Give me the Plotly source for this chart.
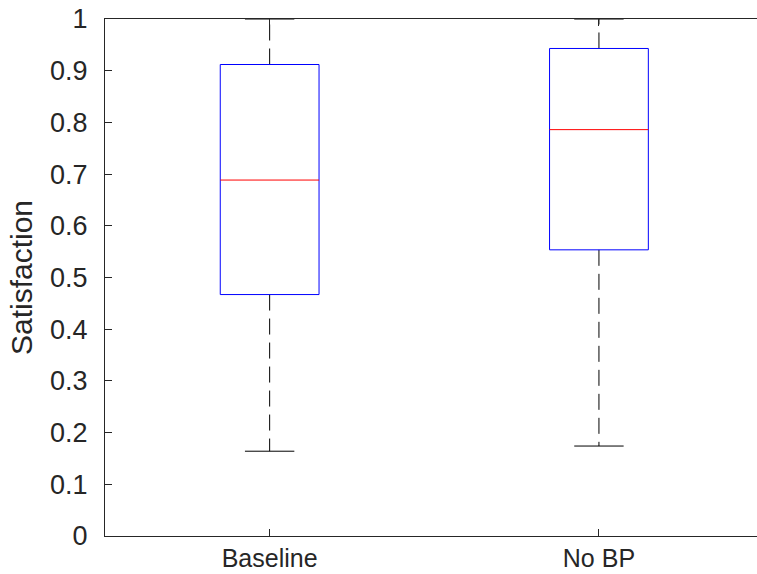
import plotly.graph_objects as go

categories = ["Baseline", "No BP"]
q1 = [0.467, 0.5535]
median = [0.6885, 0.786]
q3 = [0.912, 0.943]
lower_whisker = [0.164, 0.174]
upper_whisker = [1.0, 1.0]
y_ticks = [0, 0.1, 0.2, 0.3, 0.4, 0.5, 0.6, 0.7, 0.8, 0.9, 1]

BOX_HALF = 0.15
CAP_HALF = 0.075
TXT = "rgb(38,38,38)"

fig = go.Figure()
for i, cat in enumerate(categories):
    x = i + 1
    fig.add_trace(go.Scatter(x=[x, x, None, x, x],
                             y=[q3[i], upper_whisker[i], None, q1[i], lower_whisker[i]],
                             mode="lines", line=dict(color="black", width=1, dash="16px,8px"),
                             hoverinfo="skip", showlegend=False))
    fig.add_trace(go.Scatter(x=[x - CAP_HALF, x + CAP_HALF, None, x - CAP_HALF, x + CAP_HALF],
                             y=[upper_whisker[i], upper_whisker[i], None, lower_whisker[i], lower_whisker[i]],
                             mode="lines", line=dict(color="black", width=1),
                             hoverinfo="skip", showlegend=False))
    fig.add_trace(go.Scatter(x=[x - BOX_HALF, x + BOX_HALF, x + BOX_HALF, x - BOX_HALF, x - BOX_HALF],
                             y=[q1[i], q1[i], q3[i], q3[i], q1[i]],
                             mode="lines", line=dict(color="rgb(0,0,255)", width=1),
                             hoverinfo="skip", showlegend=False))
    fig.add_trace(go.Scatter(x=[x - BOX_HALF, x + BOX_HALF], y=[median[i], median[i]],
                             mode="lines", line=dict(color="rgb(255,0,0)", width=1),
                             hoverinfo="skip", showlegend=False))

fig.update_layout(
    width=757, height=574,
    margin=dict(l=105, r=0, t=19, b=38, autoexpand=False),
    plot_bgcolor="white", paper_bgcolor="white",
    font=dict(family="Liberation Sans, Arial, sans-serif", size=27, color=TXT),
    showlegend=False,
)
fig.update_xaxes(range=[0.5, 2.48], tickvals=[1, 2], ticktext=categories,
                 showgrid=False, zeroline=False, showline=True, linecolor=TXT, linewidth=1,
                 mirror="ticks", ticks="inside", ticklen=7, tickcolor=TXT,
                 ticklabelstandoff=0,
                 tickfont=dict(size=25, color=TXT))
fig.update_yaxes(range=[0, 1], tickvals=y_ticks, ticktext=[f"{v:g}" for v in y_ticks],
                 showgrid=False, zeroline=False, showline=True, linecolor=TXT, linewidth=1,
                 mirror=False, ticks="inside", ticklen=7, tickcolor=TXT,
                 ticklabelstandoff=11,
                 tickfont=dict(size=27, color=TXT),
                 title=dict(text="Satisfaction", font=dict(size=30, color=TXT), standoff=8))

fig.write_html("out.html")
